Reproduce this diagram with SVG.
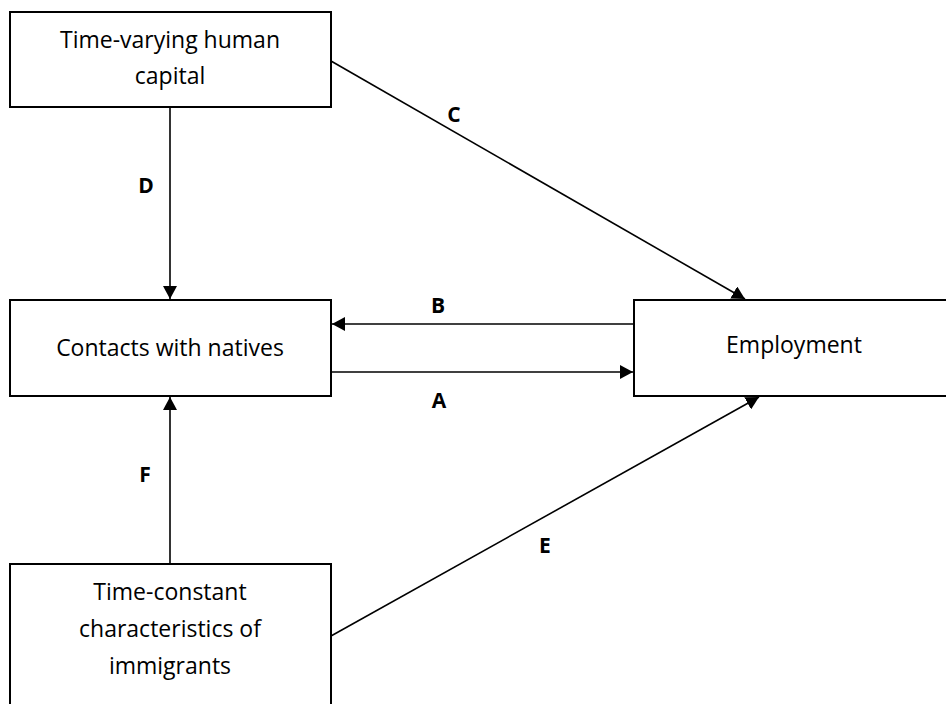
<svg xmlns="http://www.w3.org/2000/svg" width="946" height="704" viewBox="0 0 946 704">
<style>
.box{fill:#fff;stroke:#000;stroke-width:2}
.t{font-family:"Open Sans","Liberation Sans",sans-serif;font-size:23px;fill:#000;text-anchor:middle}
.lbl{font-family:"Open Sans","Liberation Sans",sans-serif;font-size:21px;font-weight:bold;fill:#000;text-anchor:middle}
.c{stroke:#000;stroke-width:1.6;fill:none;marker-end:url(#arr)}
</style>
<defs>
<marker id="arr" markerUnits="userSpaceOnUse" markerWidth="14" markerHeight="14" refX="13" refY="7" orient="auto">
<path d="M0,0 L13,7 L0,14 z" fill="#000"/>
</marker>
</defs>
<rect width="946" height="704" fill="#fff"/>
<g id="connectors">
<line class="c" x1="170" y1="107" x2="170" y2="299"/>
<line class="c" x1="170" y1="564" x2="170" y2="397"/>
<line class="c" x1="634" y1="324" x2="332" y2="324"/>
<line class="c" x1="331" y1="372" x2="633" y2="372"/>
<line class="c" x1="331" y1="61" x2="745" y2="299"/>
<line class="c" x1="331" y1="636" x2="759" y2="397"/>
<text class="lbl" x="146" y="193">D</text>
<text class="lbl" x="454" y="122">C</text>
<text class="lbl" x="438" y="313">B</text>
<text class="lbl" x="439" y="408">A</text>
<text class="lbl" x="145" y="482">F</text>
<text class="lbl" x="545" y="553">E</text>
</g>
<g id="n-human-capital">
<rect class="box" x="10" y="12" width="321" height="95"/>
<text class="t" x="170" y="48">Time-varying human</text>
<text class="t" x="170" y="84">capital</text>
</g>
<g id="n-contacts">
<rect class="box" x="10" y="300" width="321" height="96"/>
<text class="t" x="170" y="356">Contacts with natives</text>
</g>
<g id="n-employment">
<rect class="box" x="634" y="300" width="320" height="96"/>
<text class="t" x="794" y="353">Employment</text>
</g>
<g id="n-time-constant">
<rect class="box" x="10" y="564" width="321" height="150"/>
<text class="t" x="170" y="600">Time-constant</text>
<text class="t" x="170" y="637">characteristics of</text>
<text class="t" x="170" y="674">immigrants</text>
</g>
</svg>
